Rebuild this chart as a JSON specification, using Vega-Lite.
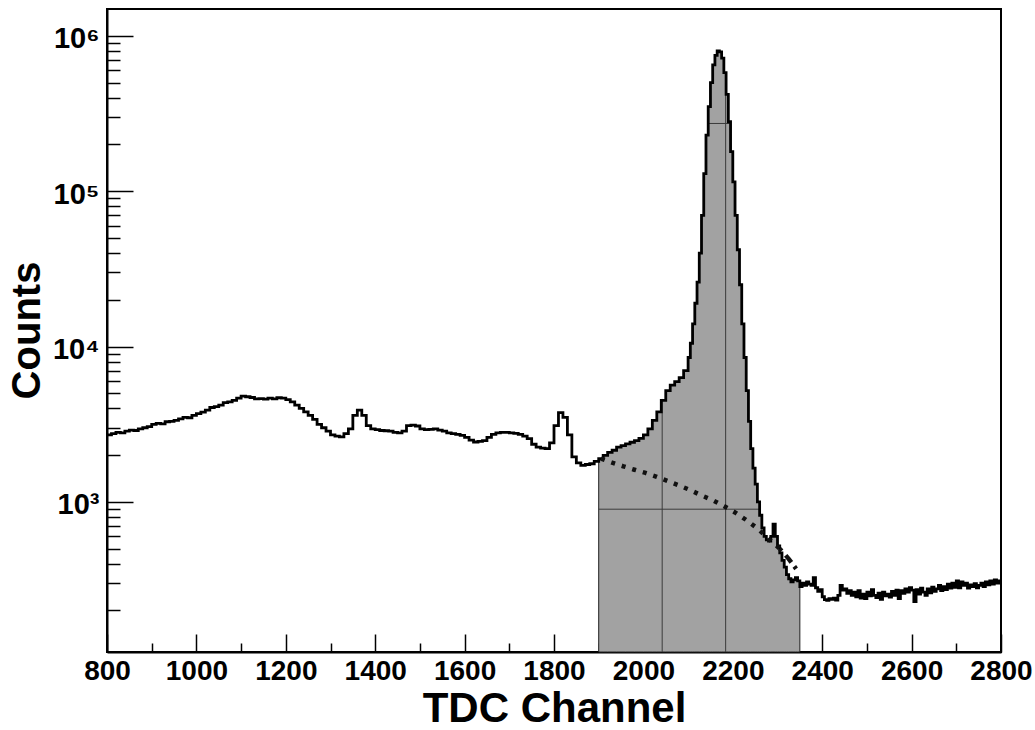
{
  "$schema": "https://vega.github.io/schema/vega-lite/v6.json",
  "width": 894,
  "height": 643,
  "autosize": "none",
  "padding": {"left": 107, "top": 9, "right": 34, "bottom": 78},
  "background": "white",
  "config": {
    "view": {"stroke": "black", "strokeWidth": 2},
    "font": "Liberation Sans",
    "axis": {"domainColor": "black", "domainWidth": 2, "tickColor": "black", "tickWidth": 1.5, "grid": false, "labelFont": "Liberation Sans", "labelFontWeight": "bold", "titleFont": "Liberation Sans", "titleFontWeight": "bold", "labelColor": "black", "titleColor": "black"}
  },
  "datasets": {
    "hist": [
      {"ch":800,"n":2700},{"ch":810,"n":2750},{"ch":820,"n":2800},{"ch":830,"n":2780},{"ch":840,"n":2850},{"ch":850,"n":2900},{"ch":860,"n":2880},{"ch":870,"n":2950},{"ch":880,"n":3000},{"ch":890,"n":3050},
      {"ch":900,"n":3150},{"ch":910,"n":3200},{"ch":920,"n":3180},{"ch":930,"n":3280},{"ch":940,"n":3300},{"ch":950,"n":3350},{"ch":960,"n":3420},{"ch":970,"n":3500},{"ch":980,"n":3480},{"ch":990,"n":3600},
      {"ch":1000,"n":3700},{"ch":1010,"n":3780},{"ch":1020,"n":3900},{"ch":1030,"n":4050},{"ch":1040,"n":4100},{"ch":1050,"n":4200},{"ch":1060,"n":4350},{"ch":1070,"n":4400},{"ch":1080,"n":4500},{"ch":1090,"n":4650},
      {"ch":1100,"n":4800},{"ch":1110,"n":4750},{"ch":1120,"n":4700},{"ch":1130,"n":4600},{"ch":1140,"n":4620},{"ch":1150,"n":4580},{"ch":1160,"n":4650},{"ch":1170,"n":4600},{"ch":1180,"n":4680},{"ch":1190,"n":4650},
      {"ch":1200,"n":4550},{"ch":1210,"n":4400},{"ch":1220,"n":4200},{"ch":1230,"n":4000},{"ch":1240,"n":3800},{"ch":1250,"n":3600},{"ch":1260,"n":3400},{"ch":1270,"n":3150},{"ch":1280,"n":3000},{"ch":1290,"n":2850},
      {"ch":1300,"n":2700},{"ch":1310,"n":2650},{"ch":1320,"n":2620},{"ch":1330,"n":2750},{"ch":1340,"n":2950},{"ch":1350,"n":3600},{"ch":1360,"n":3900},{"ch":1370,"n":3600},{"ch":1380,"n":3100},{"ch":1390,"n":2950},
      {"ch":1400,"n":2920},{"ch":1410,"n":2880},{"ch":1420,"n":2870},{"ch":1430,"n":2850},{"ch":1440,"n":2800},{"ch":1450,"n":2780},{"ch":1460,"n":2850},{"ch":1470,"n":3100},{"ch":1480,"n":3120},{"ch":1490,"n":3080},
      {"ch":1500,"n":2950},{"ch":1510,"n":2920},{"ch":1520,"n":2930},{"ch":1530,"n":2950},{"ch":1540,"n":2900},{"ch":1550,"n":2850},{"ch":1560,"n":2780},{"ch":1570,"n":2750},{"ch":1580,"n":2720},{"ch":1590,"n":2680},
      {"ch":1600,"n":2600},{"ch":1610,"n":2500},{"ch":1620,"n":2430},{"ch":1630,"n":2450},{"ch":1640,"n":2480},{"ch":1650,"n":2600},{"ch":1660,"n":2720},{"ch":1670,"n":2780},{"ch":1680,"n":2800},{"ch":1690,"n":2800},
      {"ch":1700,"n":2780},{"ch":1710,"n":2760},{"ch":1720,"n":2720},{"ch":1730,"n":2650},{"ch":1740,"n":2550},{"ch":1750,"n":2350},{"ch":1760,"n":2250},{"ch":1770,"n":2220},{"ch":1780,"n":2200},{"ch":1790,"n":2400},
      {"ch":1800,"n":3100},{"ch":1810,"n":3750},{"ch":1820,"n":3500},{"ch":1830,"n":2700},{"ch":1840,"n":1950},{"ch":1850,"n":1780},{"ch":1860,"n":1720},{"ch":1870,"n":1740},{"ch":1880,"n":1760},{"ch":1890,"n":1820},
      {"ch":1900,"n":1900},{"ch":1910,"n":1990},{"ch":1920,"n":2080},{"ch":1930,"n":2150},{"ch":1940,"n":2250},{"ch":1950,"n":2300},{"ch":1960,"n":2360},{"ch":1970,"n":2420},{"ch":1980,"n":2480},{"ch":1990,"n":2560},
      {"ch":2000,"n":2700},{"ch":2010,"n":2950},{"ch":2020,"n":3350},{"ch":2030,"n":3800},{"ch":2040,"n":4500},{"ch":2050,"n":5200},{"ch":2060,"n":5650},{"ch":2070,"n":5950},{"ch":2080,"n":6300},{"ch":2090,"n":7000},
      {"ch":2100,"n":8500},{"ch":2105,"n":10500},{"ch":2110,"n":14000},{"ch":2115,"n":19000},{"ch":2120,"n":26000},{"ch":2125,"n":40000},{"ch":2130,"n":70000},{"ch":2135,"n":130000},{"ch":2140,"n":230000},{"ch":2145,"n":350000},
      {"ch":2150,"n":500000},{"ch":2155,"n":650000},{"ch":2160,"n":750000},{"ch":2165,"n":800000},{"ch":2170,"n":790000},{"ch":2175,"n":720000},{"ch":2180,"n":580000},{"ch":2185,"n":420000},{"ch":2190,"n":280000},{"ch":2195,"n":180000},
      {"ch":2200,"n":115000},{"ch":2205,"n":70000},{"ch":2210,"n":42000},{"ch":2215,"n":25000},{"ch":2220,"n":14000},{"ch":2225,"n":8500},{"ch":2230,"n":5200},{"ch":2235,"n":3300},{"ch":2240,"n":2200},{"ch":2245,"n":1650},
      {"ch":2250,"n":1300},{"ch":2255,"n":1000},{"ch":2260,"n":820},{"ch":2265,"n":680},{"ch":2270,"n":600},{"ch":2275,"n":570},{"ch":2280,"n":560},{"ch":2285,"n":600},{"ch":2290,"n":720},{"ch":2295,"n":600},
      {"ch":2300,"n":520},{"ch":2305,"n":470},{"ch":2310,"n":420},{"ch":2315,"n":380},{"ch":2320,"n":340},{"ch":2325,"n":320},{"ch":2330,"n":305},{"ch":2335,"n":315},{"ch":2340,"n":325},{"ch":2345,"n":310},
      {"ch":2350,"n":285},{"ch":2355,"n":300},{"ch":2360,"n":290},{"ch":2365,"n":305},{"ch":2370,"n":295},{"ch":2375,"n":290},{"ch":2380,"n":325},{"ch":2385,"n":280},{"ch":2390,"n":265},{"ch":2395,"n":272},
      {"ch":2400,"n":245},{"ch":2405,"n":235},{"ch":2410,"n":232},{"ch":2415,"n":238},{"ch":2420,"n":236},{"ch":2425,"n":240},{"ch":2430,"n":233},{"ch":2435,"n":250},{"ch":2440,"n":290},{"ch":2445,"n":270},
      {"ch":2450,"n":275},{"ch":2455,"n":258},{"ch":2460,"n":268},{"ch":2465,"n":250},{"ch":2470,"n":262},{"ch":2475,"n":245},{"ch":2480,"n":268},{"ch":2485,"n":240},{"ch":2490,"n":255},{"ch":2495,"n":238},
      {"ch":2500,"n":262},{"ch":2505,"n":248},{"ch":2510,"n":272},{"ch":2515,"n":250},{"ch":2520,"n":242},{"ch":2525,"n":258},{"ch":2530,"n":236},{"ch":2535,"n":262},{"ch":2540,"n":248},{"ch":2545,"n":255},
      {"ch":2550,"n":244},{"ch":2555,"n":265},{"ch":2560,"n":250},{"ch":2565,"n":270},{"ch":2570,"n":238},{"ch":2575,"n":268},{"ch":2580,"n":258},{"ch":2585,"n":275},{"ch":2590,"n":262},{"ch":2595,"n":280},
      {"ch":2600,"n":270},{"ch":2605,"n":228},{"ch":2610,"n":272},{"ch":2615,"n":255},{"ch":2620,"n":278},{"ch":2625,"n":262},{"ch":2630,"n":250},{"ch":2635,"n":275},{"ch":2640,"n":260},{"ch":2645,"n":282},
      {"ch":2650,"n":265},{"ch":2655,"n":275},{"ch":2660,"n":290},{"ch":2665,"n":268},{"ch":2670,"n":285},{"ch":2675,"n":272},{"ch":2680,"n":295},{"ch":2685,"n":278},{"ch":2690,"n":300},{"ch":2695,"n":282},
      {"ch":2700,"n":310},{"ch":2705,"n":280},{"ch":2710,"n":305},{"ch":2715,"n":290},{"ch":2720,"n":300},{"ch":2725,"n":278},{"ch":2730,"n":292},{"ch":2735,"n":285},{"ch":2740,"n":298},{"ch":2745,"n":280},
      {"ch":2750,"n":290},{"ch":2755,"n":300},{"ch":2760,"n":285},{"ch":2765,"n":305},{"ch":2770,"n":292},{"ch":2775,"n":310},{"ch":2780,"n":295},{"ch":2785,"n":315},{"ch":2790,"n":300},{"ch":2795,"n":310},
      {"ch":2800,"n":310}
    ],
    "fit": [
      {"ch":1905,"n":1900},{"ch":1930,"n":1790},{"ch":1955,"n":1695},{"ch":1980,"n":1610},{"ch":2005,"n":1535},{"ch":2030,"n":1450},{"ch":2055,"n":1360},{"ch":2080,"n":1275},{"ch":2105,"n":1190},{"ch":2130,"n":1100},
      {"ch":2155,"n":1025},{"ch":2180,"n":940},{"ch":2205,"n":855},{"ch":2230,"n":765},{"ch":2255,"n":675},{"ch":2280,"n":580},{"ch":2305,"n":500},{"ch":2325,"n":430},{"ch":2345,"n":360}
    ],
    "mesh": [
      {"x":2042,"x2":2042,"y":108,"y2":4600},
      {"x":2184,"x2":2184,"y":108,"y2":580000},
      {"x":1900,"x2":2262,"y":897,"y2":897},
      {"x":2143,"x2":2193,"y":273000,"y2":273000}
    ]
  },
  "layer": [
    {
      "data": {"name": "hist"},
      "transform": [{"filter": "datum.ch >= 1900 && datum.ch <= 2350"}],
      "mark": {"type": "area", "interpolate": "step-after", "fill": "#a2a2a2", "stroke": "#222", "strokeWidth": 1},
      "encoding": {
        "x": {"field": "ch", "type": "quantitative", "scale": {"domain": [800, 2800], "nice": false, "zero": false},
          "axis": {"orient": "bottom", "values": [800,850,900,950,1000,1050,1100,1150,1200,1250,1300,1350,1400,1450,1500,1550,1600,1650,1700,1750,1800,1850,1900,1950,2000,2050,2100,2150,2200,2250,2300,2350,2400,2450,2500,2550,2600,2650,2700,2750,2800],
            "labelExpr": "datum.value % 200 === 0 ? format(datum.value, 'd') : ''",
            "tickSize": {"expr": "datum.value % 200 === 0 ? -18 : -9"},
            "labelFontSize": 28, "labelPadding": 23, "labelFlush": false, "labelOverlap": false,
            "title": "TDC Channel", "titleFontSize": 42, "titleX": 447, "titleY": 69, "titleAlign": "center", "titleBaseline": "alphabetic", "titleAnchor": "middle"}},
        "y": {"field": "n", "type": "quantitative", "scale": {"type": "log", "domain": [108, 1490000], "nice": false},
          "axis": {"orient": "left", "values": [200,300,400,500,600,700,800,900,1000,2000,3000,4000,5000,6000,7000,8000,9000,10000,20000,30000,40000,50000,60000,70000,80000,90000,100000,200000,300000,400000,500000,600000,700000,800000,900000,1000000],
            "labelExpr": "datum.value === 1000 ? '10³' : datum.value === 10000 ? '10⁴' : datum.value === 100000 ? '10⁵' : datum.value === 1000000 ? '10⁶' : ''",
            "tickSize": {"expr": "(datum.value === 1000 || datum.value === 10000 || datum.value === 100000 || datum.value === 1000000) ? -26 : -13"},
            "labelFontSize": 29, "labelPadding": 34, "labelOffset": 3, "labelOverlap": false, "labelFlush": false,
            "title": "Counts", "titleFontSize": 40, "titleAngle": -90, "titleX": -68, "titleY": 321, "titleAlign": "center", "titleBaseline": "alphabetic"}},
        "y2": {"datum": 108}
      }
    },
    {
      "data": {"name": "mesh"},
      "mark": {"type": "rule", "color": "#3a3a3a", "strokeWidth": 1},
      "encoding": {
        "x": {"field": "x", "type": "quantitative"},
        "x2": {"field": "x2"},
        "y": {"field": "y", "type": "quantitative"},
        "y2": {"field": "y2"}
      }
    },
    {
      "data": {"name": "hist"},
      "mark": {"type": "line", "interpolate": "step-after", "color": "black", "strokeWidth": 2.8},
      "encoding": {
        "x": {"field": "ch", "type": "quantitative"},
        "y": {"field": "n", "type": "quantitative"}
      }
    },
    {
      "data": {"name": "fit"},
      "transform": [{"filter": "datum.ch <= 2305"}],
      "mark": {"type": "line", "color": "#111", "strokeWidth": 4.5, "strokeDash": [4, 7]},
      "encoding": {
        "x": {"field": "ch", "type": "quantitative"},
        "y": {"field": "n", "type": "quantitative"}
      }
    },
    {
      "data": {"name": "fit"},
      "transform": [{"filter": "datum.ch >= 2305"}],
      "mark": {"type": "line", "color": "#111", "strokeWidth": 4.5, "strokeDash": [3, 6, 9, 5]},
      "encoding": {
        "x": {"field": "ch", "type": "quantitative"},
        "y": {"field": "n", "type": "quantitative"}
      }
    }
  ]
}
